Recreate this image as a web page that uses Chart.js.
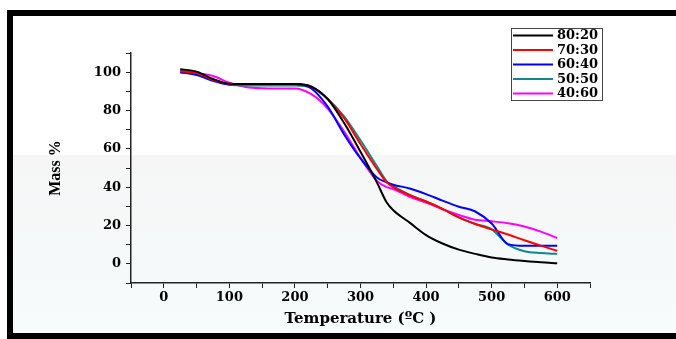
<!DOCTYPE html>
<html>
<head>
<meta charset="utf-8">
<script src="https://cdn.jsdelivr.net/npm/chart.js@4.4.0/dist/chart.umd.min.js"></script>
<style>
  html, body { margin: 0; padding: 0; background: #fff; }
  #frame { position: absolute; left: 7px; top: 10px; width: 720px; height: 329px; border: 6px solid #000; box-sizing: border-box; }
  #mark { position: absolute; left: 13px; top: 155px; width: 663px; height: 178px;
          background: linear-gradient(to bottom, rgba(228,228,228,0.35), rgba(235,246,248,0.45)); }
  #wrap { position: absolute; left: 0; top: 0; width: 676px; height: 339px; }
</style>
</head>
<body>
<div id="frame"></div>
<div id="mark"></div>
<div id="wrap"><canvas id="grafico"></canvas></div>
<script>
// dados (TGA)
const temps = [25, 50, 75, 100, 125, 150, 175, 200, 225, 250, 275, 300, 325, 340, 350, 375, 400, 425, 450, 475, 500, 525, 550, 575, 600];
const seriesNames = ['80:20', '70:30', '60:40', '50:50', '40:60'];
const mass8020 = [101.5, 100.3, 96.5, 94, 93.8, 93.8, 93.8, 93.8, 92.5, 86, 73.5, 58.5, 42.5, 32, 28, 21.5, 15, 10.6, 7.4, 5.2, 3.3, 2.3, 1.5, 0.8, 0.3];
const mass7030 = [100.5, 99.5, 96, 94, 93.8, 93.8, 93.8, 93.8, 92.5, 86, 76, 62.5, 49.5, 42.5, 40, 35.8, 32.5, 28.7, 24.2, 20.8, 18, 15.3, 12.3, 9.5, 6.8];
const mass6040 = [100, 98.5, 95.5, 93.5, 93.8, 93.8, 93.8, 93.8, 91.5, 82, 67.5, 55, 45, 42.5, 41.3, 39.3, 36.4, 33, 29.8, 27.3, 21, 10.3, 9.4, 9.4, 9.4];
const mass5050 = [100.5, 99.3, 96, 93.5, 93, 93, 93, 93, 92, 86, 77, 64.5, 51, 43, 40.5, 36, 32.5, 28.7, 24.2, 20.8, 18, 10, 6.6, 5.6, 5.2];
const mass4060 = [100, 99.5, 98, 94.5, 92.3, 91.6, 91.5, 91.5, 88.5, 81, 69, 55.3, 43.3, 40, 39, 35, 32, 28.5, 25.5, 23, 22.2, 21.2, 19.5, 16.8, 13.5];
const xTicks = [0, 100, 200, 300, 400, 500, 600];
const yTicks = [0, 20, 40, 60, 80, 100];

const cores = ['#000000', '#ff0000', '#0000ff', '#118888', '#ff00ff'];
const valores = [mass8020, mass7030, mass6040, mass5050, mass4060];

// legenda desenhada à mão (caixa no canto)
const legendaBox = {
    id: 'legendaBox',
    afterDraw(chart) {
        const ctx = chart.ctx;
        ctx.save();
        ctx.strokeStyle = '#444';
        ctx.lineWidth = 1;
        ctx.strokeRect(511.5, 28.5, 91, 72);
        chart.data.datasets.forEach((ds, i) => {
            const y = 35.5 + i * 14.5;
            ctx.strokeStyle = ds.borderColor;
            ctx.lineWidth = 2;
            ctx.beginPath();
            ctx.moveTo(513, y);
            ctx.lineTo(553, y);
            ctx.stroke();
            ctx.fillStyle = '#000';
            ctx.font = 'bold 13px "DejaVu Serif"';
            ctx.textBaseline = 'middle';
            ctx.fillText(ds.label, 557, y + 0.5);
        });
        ctx.restore();
    }
};

const fonteTick = { family: 'DejaVu Serif', weight: 'bold', size: 13 };

const ctx = document.getElementById('grafico').getContext('2d');
const grafico = new Chart(ctx, {
    type: 'line',
    data: {
        datasets: seriesNames.map((nome, i) => ({
            label: nome,
            data: temps.map((t, j) => ({ x: t, y: valores[i][j] })),
            borderColor: cores[i],
            backgroundColor: cores[i],
            borderWidth: 2,
            pointRadius: 0,
            cubicInterpolationMode: 'monotone'
        }))
    },
    options: {
        responsive: true,
        maintainAspectRatio: false,
        animation: false,
        layout: { padding: { top: 53, right: 86, left: 0, bottom: 0 } },
        plugins: {
            legend: { display: false },
            tooltip: { enabled: false }
        },
        scales: {
            x: {
                type: 'linear',
                min: -50,
                max: 650,
                afterFit(scale) { scale.height = 56; },
                border: { display: true, color: '#222', width: 1.5 },
                grid: { drawOnChartArea: false, drawTicks: true, tickLength: 5, color: '#222' },
                ticks: {
                    stepSize: 50,
                    autoSkip: false,
                    maxRotation: 0,
                    padding: 2,
                    color: '#000',
                    font: fonteTick,
                    callback: v => xTicks.includes(v) ? v : ''
                },
                title: {
                    display: true,
                    text: 'Temperature (ºC )',
                    color: '#000',
                    font: { family: 'DejaVu Serif', weight: 'bold', size: 15 },
                    padding: { top: 0, bottom: 11 }
                }
            },
            y: {
                min: -10,
                max: 110,
                afterFit(scale) { scale.width = 131; },
                border: { display: true, color: '#222', width: 1.5 },
                grid: { drawOnChartArea: false, drawTicks: true, tickLength: 5, color: '#222' },
                ticks: {
                    stepSize: 10,
                    autoSkip: false,
                    padding: 5,
                    color: '#000',
                    font: fonteTick,
                    callback: v => yTicks.includes(v) ? v : ''
                },
                title: {
                    display: true,
                    text: 'Mass %',
                    color: '#000',
                    font: { family: 'Liberation Serif', weight: 'bold', size: 16 },
                    padding: { top: 46, bottom: 0 }
                }
            }
        }
    },
    plugins: [legendaBox]
});
</script>
</body>
</html>
